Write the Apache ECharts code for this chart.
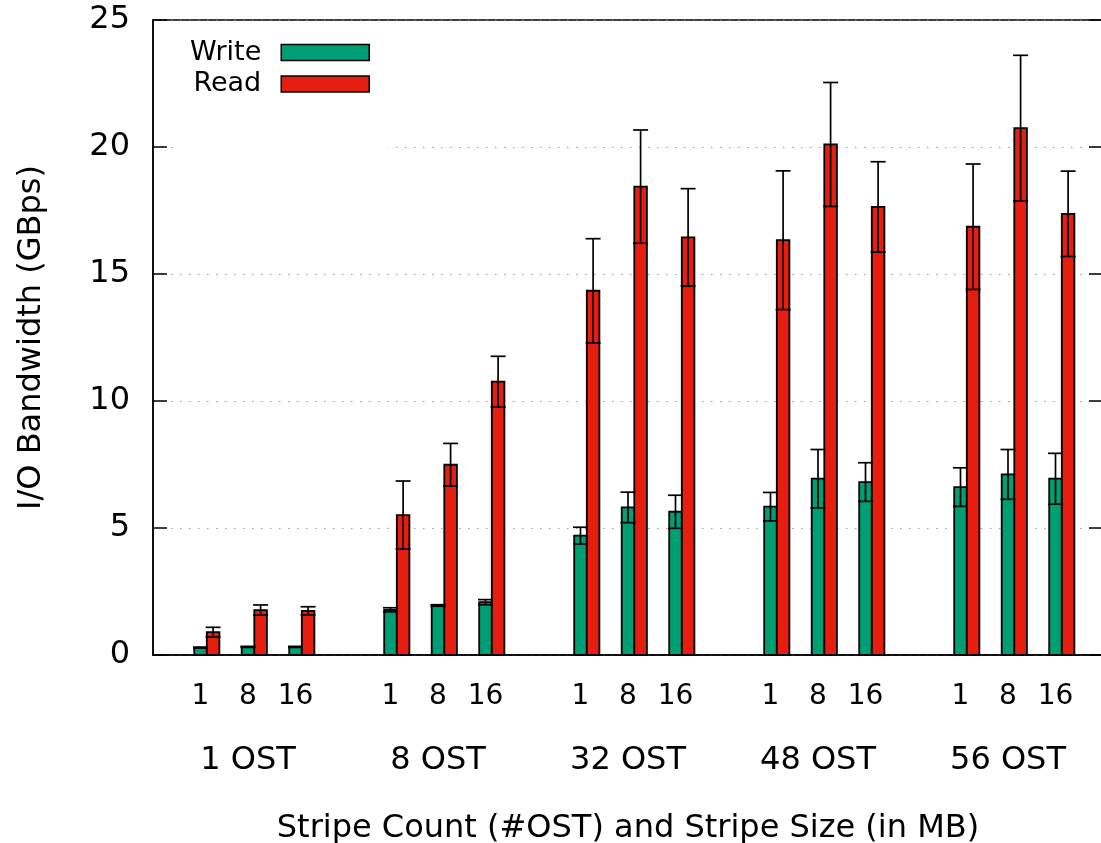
<!DOCTYPE html>
<html>
<head>
<meta charset="utf-8">
<script src="https://cdn.jsdelivr.net/npm/echarts@6/dist/echarts.min.js"></script>
<style>
html,body{margin:0;padding:0;background:#fff;}
#chart{width:1101px;height:843px;}
</style>
</head>
<body>
<div id="chart"></div>
<script>
// ---- data ----
const groupLabels = ['1 OST', '8 OST', '32 OST', '48 OST', '56 OST'];
const sizeLabels = ['1', '8', '16'];
const writeVals = [0.29, 0.32, 0.32, 1.78, 1.95, 2.08, 4.70, 5.81, 5.64, 5.84, 6.94, 6.81, 6.61, 7.11, 6.94];
const writeErr  = [0.02, 0.02, 0.02, 0.08, 0.03, 0.10, 0.33, 0.60, 0.65, 0.56, 1.15, 0.76, 0.76, 0.98, 1.00];
const readVals  = [0.90, 1.77, 1.74, 5.51, 7.49, 10.76, 14.34, 18.44, 16.44, 16.33, 20.10, 17.64, 16.86, 20.74, 17.37];
const readErr   = [0.19, 0.20, 0.16, 1.34, 0.84, 1.00, 2.05, 2.23, 1.92, 2.73, 2.44, 1.78, 2.47, 2.87, 1.68];
const yTicks = { min: 0, max: 25, interval: 5 };

const GREEN = '#009e73', RED = '#e51e10';
const FONT = 'DejaVu Sans';
const BAR_W = 12.6;
const SLOTS_PER_GROUP = sizeLabels.length + 1;

// slot position of each bar pair on the x axis
function slotOf(i) {
  const g = Math.floor(i / sizeLabels.length), s = i % sizeLabels.length;
  return g * SLOTS_PER_GROUP + s;
}
const writeData = writeVals.map((v, i) => [slotOf(i), v, writeErr[i]]);
const readData = readVals.map((v, i) => [slotOf(i), v, readErr[i]]);

function barRenderer(offsetBars, color) {
  return function (params, api) {
    const x = api.value(0), v = api.value(1);
    const top = api.coord([x, v]);
    const base = api.coord([x, 0]);
    const cx = top[0] + offsetBars * BAR_W;
    return {
      type: 'rect',
      shape: { x: cx - BAR_W / 2, y: top[1], width: BAR_W, height: base[1] - top[1] },
      style: { fill: color, stroke: '#000', lineWidth: 1.8 }
    };
  };
}
function errRenderer(offsetBars) {
  return function (params, api) {
    const x = api.value(0), v = api.value(1), e = api.value(2);
    const hi = api.coord([x, v + e]);
    const lo = api.coord([x, v - e]);
    const cx = hi[0] + offsetBars * BAR_W;
    const cap = 7.5;
    const st = { stroke: '#000', lineWidth: 1.7 };
    return {
      type: 'group',
      children: [
        { type: 'line', shape: { x1: cx, y1: hi[1], x2: cx, y2: lo[1] }, style: st },
        { type: 'line', shape: { x1: cx - cap, y1: hi[1], x2: cx + cap, y2: hi[1] }, style: st },
        { type: 'line', shape: { x1: cx - cap, y1: lo[1], x2: cx + cap, y2: lo[1] }, style: st }
      ]
    };
  };
}

function sizeLabelAt(v) {
  if (v < 0) return '';
  const g = Math.floor(v / SLOTS_PER_GROUP), s = v % SLOTS_PER_GROUP;
  if (g >= groupLabels.length || s >= sizeLabels.length) return '';
  return sizeLabels[s];
}
function groupLabelAt(v) {
  if (v < 0) return '';
  const g = Math.floor(v / SLOTS_PER_GROUP), s = v % SLOTS_PER_GROUP;
  if (g >= groupLabels.length || s !== 1) return '';
  return groupLabels[g];
}

const chart = echarts.init(document.getElementById('chart'), null, { renderer: 'canvas' });
const legendText = { fontFamily: FONT, fontSize: 27, color: '#000', lineHeight: 27, padding: [4, 15, 0, 0] };
chart.setOption({
  animation: false,
  backgroundColor: '#fff',
  textStyle: { fontFamily: FONT },
  grid: { left: 153, top: 20, right: -2, bottom: 188, show: true, borderColor: '#000', borderWidth: 1.5,
          containLabel: false, outerBoundsMode: 'none' },
  legend: [
    {
      data: [{ name: 'Write', icon: 'rect', itemStyle: { color: GREEN, borderColor: '#000', borderWidth: 1.5 } }],
      orient: 'vertical', align: 'right', right: 713, top: 21,
      padding: [16, 18, 88, 17], backgroundColor: '#fff',
      itemWidth: 88, itemHeight: 16, selectedMode: false, textStyle: legendText, z: 4
    },
    {
      data: [{ name: 'Read', icon: 'rect', itemStyle: { color: RED, borderColor: '#000', borderWidth: 1.5 } }],
      orient: 'vertical', align: 'right', right: 731, top: 68.5,
      padding: 0, itemWidth: 88, itemHeight: 16, selectedMode: false, textStyle: legendText, z: 5
    }
  ],
  xAxis: [
    {
      type: 'value', min: -1, max: 19, interval: 1,
      axisLine: { show: true, onZero: false, lineStyle: { color: '#000', width: 1.5 } },
      axisTick: { show: false }, splitLine: { show: false },
      axisLabel: { formatter: sizeLabelAt, fontFamily: FONT, fontSize: 28, color: '#000', margin: 28, showMinLabel: true, showMaxLabel: true },
      name: 'Stripe Count (#OST) and Stripe Size (in MB)', nameLocation: 'middle', nameGap: 158,
      nameTextStyle: { fontFamily: FONT, fontSize: 32, color: '#000' }
    },
    {
      type: 'value', min: -1, max: 19, interval: 1, position: 'bottom',
      axisLine: { show: false, onZero: false }, axisTick: { show: false }, splitLine: { show: false },
      axisLabel: { formatter: groupLabelAt, fontFamily: FONT, fontSize: 32, color: '#000', margin: 90 }
    }
  ],
  yAxis: [
    {
      type: 'value', min: yTicks.min, max: yTicks.max, interval: yTicks.interval, position: 'left',
      axisLine: { show: true, onZero: false, lineStyle: { color: '#000', width: 1.5 } },
      axisTick: { show: true, inside: true, length: 14, lineStyle: { color: '#000', width: 1.5 } },
      axisLabel: { fontFamily: FONT, fontSize: 32, color: '#000', margin: 23, padding: [4, 0, 0, 0] },
      splitLine: { show: true, lineStyle: { color: '#9a9a9a', width: 1.2, type: [1.5, 7.5] } },
      name: 'I/O Bandwidth (GBps)', nameLocation: 'middle', nameGap: 105,
      nameTextStyle: { fontFamily: FONT, fontSize: 32, color: '#000' }
    },
    {
      type: 'value', min: yTicks.min, max: yTicks.max, interval: yTicks.interval, position: 'right',
      axisLine: { show: true, onZero: false, lineStyle: { color: '#000', width: 1.5 } },
      axisTick: { show: true, inside: true, length: 14, lineStyle: { color: '#000', width: 1.5 } },
      axisLabel: { show: false }, splitLine: { show: false }
    }
  ],
  series: [
    { name: 'Write', type: 'custom', xAxisIndex: 0, yAxisIndex: 0, data: writeData, encode: { x: 0, y: 1 },
      itemStyle: { color: GREEN }, renderItem: barRenderer(0, GREEN), z: 2 },
    { name: 'Read', type: 'custom', xAxisIndex: 0, yAxisIndex: 0, data: readData, encode: { x: 0, y: 1 },
      itemStyle: { color: RED }, renderItem: barRenderer(1, RED), z: 2 },
    { name: 'WriteErr', type: 'custom', xAxisIndex: 0, yAxisIndex: 0, data: writeData, encode: { x: 0, y: 1 },
      renderItem: errRenderer(0), z: 3 },
    { name: 'ReadErr', type: 'custom', xAxisIndex: 0, yAxisIndex: 0, data: readData, encode: { x: 0, y: 1 },
      renderItem: errRenderer(1), z: 3 }
  ]
});
</script>
</body>
</html>
